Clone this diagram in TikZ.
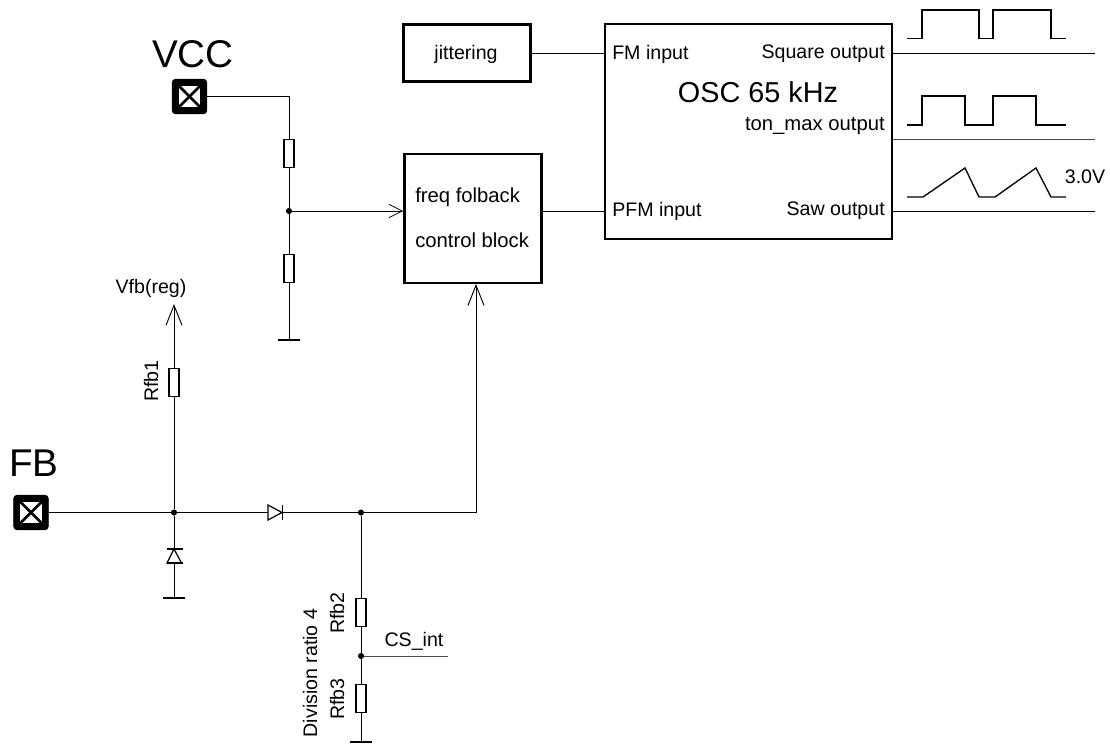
\documentclass[tikz,border=0pt]{standalone}
\usepackage{fontspec}
\setmainfont{Liberation Sans}
\usetikzlibrary{arrows.meta}
\tikzset{
  wire/.style={line width=0.75pt,line cap=butt},
  openarrow/.style={wire,-{Straight Barb[length=10pt,width=10pt,line width=0.6pt]}},
  longarrow/.style={wire,-{Straight Barb[length=15pt,width=12pt,line width=0.7pt]}},
  block/.style={draw,line width=1.9pt,minimum width=0,inner sep=0},
  res/.style={draw,line width=0.9pt,fill=white,inner sep=0,minimum width=7.5pt,minimum height=21.5pt},
  dot/.style={circle,fill=black,inner sep=0,minimum size=4.6pt},
  pad/.style={draw=black,fill=black,rounded corners=2.5pt,minimum size=26pt,inner sep=0},
  lab/.style={inner sep=0,font=\fontsize{14.7}{16}\selectfont},
  labw/.style={inner sep=0,font=\fontsize{15.2}{16}\selectfont},
  big/.style={inner sep=0,font=\fontsize{29}{31}\selectfont},
  wave/.style={line width=1pt,line join=miter},
  gnd/.style={line width=1pt}
}
\begin{document}
\begin{tikzpicture}[x=0.75pt,y=-0.75pt]
\useasboundingbox (0,0) rectangle (1110,743);
% coordinates
\coordinate (vccT) at (289,96.5);
\coordinate (gnd1) at (289,340);
\coordinate (fbU) at (174,304);
\coordinate (gnd2) at (174,598);
\coordinate (gnd3) at (361,742);
\coordinate (csEnd) at (448,656);
\coordinate (corner) at (476,512);
\coordinate (out1) at (1095,53);
\coordinate (out2) at (1095,139);
\coordinate (out3) at (1095,211);
% blocks
\node[block,minimum width=95pt,minimum height=43pt] (jit) at (467,53) {};
\node[block,minimum width=103pt,minimum height=96.5pt] (freq) at (473,218.5) {};
\node[block,minimum width=215pt,minimum height=161pt] (osc) at (748.5,131.5) {};
% pads
\node[pad] (vcc) at (189.5,96.5) {};
\node[pad] (fb) at (31,512.5) {};
\foreach \n in {vcc,fb}{
  \fill[white] ([xshift=-8pt,yshift=8pt]\n.center) rectangle ([xshift=8pt,yshift=-8pt]\n.center);
  \draw[line width=2pt] ([xshift=-8pt,yshift=8pt]\n.center) -- ([xshift=8pt,yshift=-8pt]\n.center);
  \draw[line width=2pt] ([xshift=8pt,yshift=8pt]\n.center) -- ([xshift=-8pt,yshift=-8pt]\n.center);
}
% junctions
\node[dot] (j1) at (289,211) {};
\node[dot] (j2) at (174,512.5) {};
\node[dot] (j3) at (361,512.5) {};
\node[dot] (j4) at (361,656) {};
% wires
\draw[wire] (vcc.east |- vcc.center) -- (vccT) -- (gnd1);
\draw[openarrow] (j1) -- (j1 -| freq.west);
\draw[wire] (jit.east) -- (jit.east -| osc.west);
\draw[wire] (freq.east |- j1) -- (j1 -| osc.west);
\draw[wire] (fb.east) -- (j3);
\draw[wire] (j3) -- (corner |- j3);
\draw[longarrow] (corner |- j3) -- (corner |- freq.south);
\draw[longarrow] (j2) -- (fbU);
\draw[wire] (j2) -- (gnd2);
\draw[wire] (j3) -- (gnd3);
\draw[wire,black!70] (j4) -- (csEnd);
\draw[wire] (osc.east |- out1) -- (out1);
\draw[wire,black!70] (osc.east |- out2) -- (out2);
\draw[wire] (osc.east |- out3) -- (out3);
% grounds
\draw[gnd] ([xshift=-8.2pt]gnd1) -- ([xshift=8.2pt]gnd1);
\draw[gnd] ([xshift=-8.2pt]gnd2) -- ([xshift=8.2pt]gnd2);
\draw[gnd] ([xshift=-8.2pt]gnd3) -- ([xshift=8.2pt]gnd3);
% resistors
\node[res] (r1) at (289,153.5) {};
\node[res] (r2) at (289,268.5) {};
\node[res] (rfb1) at (174,382.5) {};
\node[res] (rfb2) at (361,612.5) {};
\node[res] (rfb3) at (361,698.5) {};
% diode
\draw[line width=0.9pt,fill=white,line join=miter] (268,505) -- (282,512.5) -- (268,520) -- cycle;
\draw[line width=0.9pt] (282.5,505) -- (282.5,520);
% zener
\draw[line width=0.9pt,fill=white,line join=miter] (167,563) -- (174,549) -- (181.5,563) -- cycle;
\draw[line width=0.9pt] (166.5,563) -- (183,563);
\draw[line width=0.9pt] (166.5,549) -- (183,549);
% waveforms
\draw[wave] (907,38.5) -- (922,38.5) -- (922,10) -- (979,10) -- (979,38.5) -- (993,38.5) -- (993,10) -- (1051,10) -- (1051,38.5) -- (1066,38.5);
\draw[wave] (907,125) -- (922,125) -- (922,96) -- (965,96) -- (965,125) -- (993,125) -- (993,96) -- (1036,96) -- (1036,125) -- (1066,125);
\draw[wave] (907,197) -- (923,197) -- (965,168) -- (979,197) -- (995,197) -- (1036,168) -- (1051,197) -- (1066,197);
% text
\node[big] (tvcc) at (193,54) {VCC};
\node[big] (tfb) at (34,463) {FB};
\node[lab] (tjit) at (466,54) {jittering};
\node[labw,anchor=west] (tf1) at (415,197) {freq folback};
\node[labw,anchor=west] (tf2) at (415,240) {control block};
\node[lab,anchor=west] (tfm) at (612,54) {FM input};
\node[lab,anchor=west] (tpfm) at (612,211) {PFM input};
\node[lab,anchor=east] (tsq) at (885,54) {Square output};
\node[labw,anchor=east] (tton) at (885,126) {ton\_max output};
\node[lab,anchor=east] (tsaw) at (885,211) {Saw output};
\node[inner sep=0,font=\fontsize{21.6}{23}\selectfont] (tosc) at (758,92) {OSC 65 kHz};
\node[lab] (tv3) at (1085,177) {3.0V};
\node[lab] (tvfb) at (151,288) {Vfb(reg)};
\node[lab,rotate=90] (trfb1) at (151,381) {Rfb1};
\node[lab,rotate=90] (trfb2) at (337,613) {Rfb2};
\node[lab,rotate=90] (trfb3) at (337,699) {Rfb3};
\node[lab,rotate=90] (tdiv) at (310,673) {Division ratio 4};
\node[lab] (tcs) at (414,641) {CS\_int};
\end{tikzpicture}
\end{document}
